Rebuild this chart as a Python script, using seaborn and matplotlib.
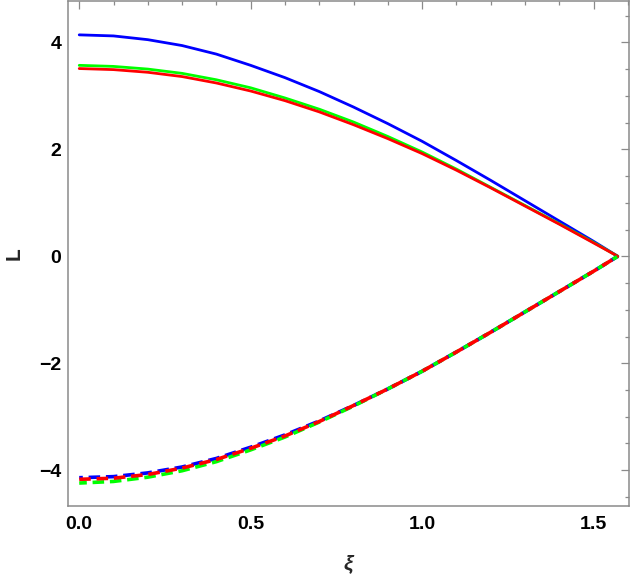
import seaborn as sns
import matplotlib.pyplot as plt
import matplotlib.ticker as ticker
import pandas as pd

# xi grid (0 .. pi/2) and values
xi = [0.0, 0.1, 0.2, 0.3, 0.4, 0.5, 0.6, 0.7, 0.8, 0.9,
      1.0, 1.1, 1.2, 1.3, 1.4, 1.5, 1.5708]

blue_upper = [4.14, 4.12, 4.05, 3.94, 3.78, 3.57, 3.34, 3.08, 2.79, 2.48,
              2.15, 1.79, 1.42, 1.04, 0.66, 0.28, 0.0]
green_upper = [3.57, 3.55, 3.50, 3.42, 3.30, 3.15, 2.96, 2.75, 2.51, 2.24,
               1.95, 1.63, 1.29, 0.95, 0.61, 0.26, 0.0]
red_upper = [3.51, 3.49, 3.44, 3.36, 3.24, 3.09, 2.91, 2.70, 2.46, 2.20,
             1.92, 1.61, 1.28, 0.94, 0.60, 0.25, 0.0]

blue_lower = [-4.14, -4.12, -4.05, -3.94, -3.78, -3.57, -3.34, -3.08, -2.79, -2.48,
              -2.15, -1.79, -1.42, -1.04, -0.66, -0.28, 0.0]
green_lower = [-4.24, -4.21, -4.13, -4.01, -3.84, -3.62, -3.38, -3.10, -2.80, -2.48,
               -2.15, -1.79, -1.42, -1.04, -0.66, -0.28, 0.0]
red_lower = [-4.17, -4.15, -4.08, -3.96, -3.80, -3.59, -3.36, -3.09, -2.79, -2.48,
             -2.15, -1.79, -1.42, -1.04, -0.66, -0.28, 0.0]

sns.set_theme(style="white")
plt.rcParams["font.family"] = ["Liberation Sans", "DejaVu Sans"]

fig = plt.figure(figsize=(6.32, 5.79), dpi=100)
ax = fig.add_axes([0.108, 0.126, 0.887, 0.872])

frame = "#8a8a8a"

# solid branches
for ys, c in [(blue_upper, "#0000ff"), (green_upper, "#00ff00"), (red_upper, "#ff0000")]:
    df = pd.DataFrame({"xi": xi, "L": ys})
    sns.lineplot(data=df, x="xi", y="L", color=c, linewidth=2.0, ax=ax)

# dashed branches
for ys, c, off in [(blue_lower, "#0000ff", 2.2), (green_lower, "#00ff00", 1.1), (red_lower, "#ff0000", 0.0)]:
    df = pd.DataFrame({"xi": xi, "L": ys})
    sns.lineplot(data=df, x="xi", y="L", color=c, linewidth=2.6,
                 linestyle=(off, (3.2, 1.6)), ax=ax)

ax.set_xlim(-0.032, 1.603)
ax.set_ylim(-4.67, 4.77)

ax.xaxis.set_major_locator(ticker.MultipleLocator(0.5))
ax.xaxis.set_minor_locator(ticker.MultipleLocator(0.1))
ax.yaxis.set_major_locator(ticker.MultipleLocator(2))
ax.yaxis.set_minor_locator(ticker.MultipleLocator(0.5))
ax.xaxis.set_major_formatter(ticker.FormatStrFormatter("%.1f"))

ax.tick_params(which="both", direction="in", top=True, right=True,
               color=frame, width=0.9)
ax.tick_params(which="major", length=5.5)
ax.tick_params(which="minor", length=3)
ax.tick_params(axis="x", which="major", pad=7)
ax.tick_params(axis="y", which="major", pad=5)
for lab in ax.get_xticklabels() + ax.get_yticklabels():
    lab.set_fontsize(14)
    lab.set_fontweight("bold")
    lab.set_color("black")

for s in ax.spines.values():
    s.set_color(frame)
    s.set_linewidth(1.1)

ax.set_xlabel("ξ", fontsize=15, fontweight="bold", fontstyle="italic")
ax.set_ylabel("L", fontsize=15, fontweight="bold")
ax.xaxis.set_label_coords(0.5, -0.095)
ax.yaxis.set_label_coords(-0.08, 0.5)
ax.grid(False)

plt.savefig("out.png", dpi=100)
